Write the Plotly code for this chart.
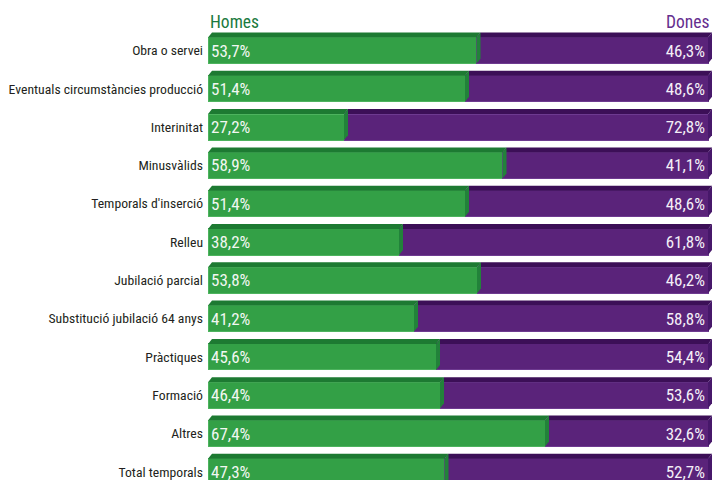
import plotly.graph_objects as go

categories = ["Obra o servei", "Eventuals circumstàncies producció", "Interinitat",
              "Minusvàlids", "Temporals d'inserció", "Relleu", "Jubilació parcial",
              "Substitució jubilació 64 anys", "Pràctiques", "Formació", "Altres",
              "Total temporals"]
homes = [53.7, 51.4, 27.2, 58.9, 51.4, 38.2, 53.8, 41.2, 45.6, 46.4, 67.4, 47.3]
dones = [46.3, 48.6, 72.8, 41.1, 48.6, 61.8, 46.2, 58.8, 54.4, 53.6, 32.6, 52.7]

G_FRONT, G_TOP, G_SIDE, G_LINE = "#33a046", "#1d7a32", "#22823a", "#4db35e"
P_FRONT, P_TOP, P_SIDE, P_LINE = "#5a237a", "#3c0f57", "#47186a", "#6e3a90"
FONT = "Roboto Condensed, Liberation Sans Narrow, sans-serif"

def fmt(v):
    return f"{v:.1f}".replace(".", ",") + "%"

W = 0.68      # bar thickness (category units)
DX = 0.8      # depth shift in x (data units)
DY = 0.13     # depth shift in y (category units)

ys = list(range(len(categories)))
fig = go.Figure()
fig.add_trace(go.Bar(
    y=ys, x=homes, orientation="h", width=W, name="Homes",
    marker=dict(color=G_FRONT, line=dict(color=G_LINE, width=1)),
    text=[fmt(v) for v in homes], textposition="inside", insidetextanchor="start",
    textangle=0, textfont=dict(family=FONT, size=17, color="#f2f7f2"),
    cliponaxis=False, hoverinfo="skip"))
fig.add_trace(go.Bar(
    y=ys, x=dones, orientation="h", width=W, name="Dones",
    marker=dict(color=P_FRONT, line=dict(color=P_LINE, width=1)),
    text=[fmt(v) for v in dones], textposition="inside", insidetextanchor="end",
    textangle=0, textfont=dict(family=FONT, size=17, color="#f4eff7"),
    cliponaxis=False, hoverinfo="skip"))

shapes = []
for i, (h, d) in enumerate(zip(homes, dones)):
    top = i - W / 2
    bot = i + W / 2
    segs = [(0, h, G_TOP, G_SIDE), (h, h + d, P_TOP, P_SIDE)]
    for x0, x1, ctop, cside in segs:
        shapes.append(dict(
            type="path", xref="x", yref="y", layer="above", line=dict(width=0),
            fillcolor=ctop,
            path=f"M {x0},{top} L {x0+DX},{top-DY} L {x1+DX},{top-DY} L {x1},{top} Z"))
    for x0, x1, ctop, cside in segs:
        shapes.append(dict(
            type="path", xref="x", yref="y", layer="above", line=dict(width=0),
            fillcolor=cside,
            path=f"M {x1},{top} L {x1+DX},{top-DY} L {x1+DX},{bot-DY} L {x1},{bot} Z"))

fig.update_layout(
    width=713, height=480, barmode="stack", showlegend=False,
    paper_bgcolor="white", plot_bgcolor="white",
    margin=dict(l=208, r=0, t=32, b=0, autoexpand=False),
    bargap=0,
    shapes=shapes,
    xaxis=dict(range=[0, 101.0], visible=False, fixedrange=True, automargin=False),
    yaxis=dict(range=[11.214, -0.483], tickvals=ys, ticktext=categories,
               showgrid=False, zeroline=False, showline=False, ticks="",
               ticklabelstandoff=4, automargin=False,
               tickfont=dict(family=FONT, size=13.7, color="#231f20")),
    annotations=[
        dict(text="Homes", xref="paper", yref="paper", x=0, y=1, xanchor="left",
             yanchor="bottom", yshift=-2, showarrow=False,
             font=dict(family=FONT, size=17.5, color="#1a7a3e")),
        dict(text="Dones", xref="paper", yref="paper", x=1, y=1, xanchor="right",
             yanchor="bottom", yshift=-2, xshift=-2, showarrow=False,
             font=dict(family=FONT, size=17.5, color="#652d8e")),
    ],
)

fig.write_html("out.html",
               config={"displayModeBar": False, "staticPlot": True},
               post_script="document.body.style.margin='0px';"
                           "document.documentElement.style.overflow='hidden';")
